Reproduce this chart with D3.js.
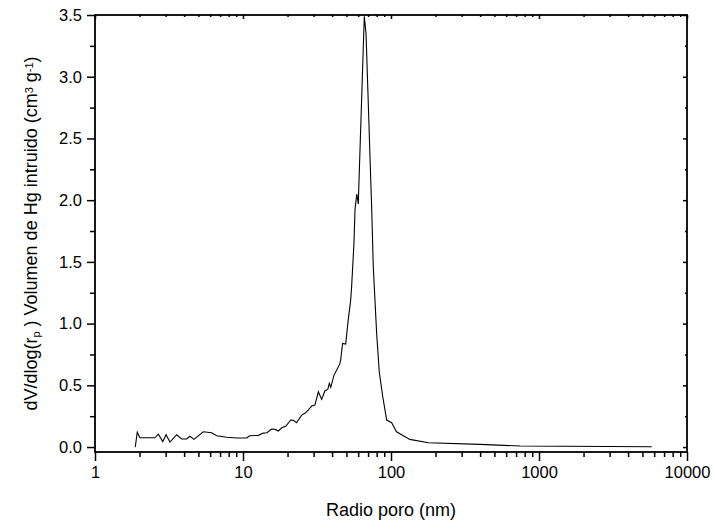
<!DOCTYPE html>
<html>
<head>
<meta charset="utf-8">
<script src="https://cdn.jsdelivr.net/npm/d3@7"></script>
<style>
    body { margin: 0; background: #fff; }
    svg text { font-family: "Liberation Sans", Arial, sans-serif; fill: #000; }
</style>
</head>
<body>
<div id="chart"></div>
<script>
// Pore radius (nm) and dV/dlog(rp)
const radio = [1.87, 1.93, 2.01, 2.54, 2.68, 2.87, 3.02, 3.21, 3.56, 3.85, 4.16, 4.38, 4.66,
    5.39, 6.14, 6.64, 7.76, 9.06, 10.6, 11.1, 12.7, 13.7, 14.5, 15.6, 16.5, 17.3, 18.3, 19.5,
    21.0, 21.9, 23.0, 24.9, 26.2, 27.6, 29.1, 30.6, 32.3, 34.0, 35.8, 37.4, 38.3, 39.2, 41.2,
    43.0, 45.2, 45.7, 47.1, 49.4, 51.4, 53.4, 54.2, 56.2, 57.1, 58.7, 60.1, 66.0, 67.8, 74.1,
    75.9, 80.0, 83.3, 87.9, 93.5, 101, 109, 134, 179, 399, 744, 5780];
const dvdlog = [0.00, 0.12, 0.075, 0.075, 0.105, 0.045, 0.10, 0.04, 0.10, 0.065, 0.065, 0.087, 0.062,
    0.124, 0.116, 0.092, 0.079, 0.073, 0.073, 0.092, 0.095, 0.113, 0.116, 0.146, 0.143, 0.13, 0.156, 0.17,
    0.219, 0.216, 0.197, 0.259, 0.273, 0.30, 0.332, 0.34, 0.448, 0.386, 0.456, 0.467, 0.516, 0.484, 0.583,
    0.624, 0.678, 0.705, 0.84, 0.835, 1.03, 1.19, 1.30, 1.65, 1.92, 2.05, 1.97, 3.49, 3.35, 1.92,
    1.46, 0.92, 0.61, 0.41, 0.219, 0.197, 0.124, 0.062, 0.035, 0.022, 0.008, 0.002];

const xMajor = [1, 10, 100, 1000, 10000];
const yMajor = [0, 0.5, 1.0, 1.5, 2.0, 2.5, 3.0, 3.5];
const yMinor = [0.25, 0.75, 1.25, 1.75, 2.25, 2.75, 3.25];

let width = 714;
let height = 522;
let margin = { top: 15, right: 27, bottom: 70, left: 95 };
let chartWidth = width - margin.left - margin.right;
let chartHeight = height - margin.top - margin.bottom;

const data = radio.map((r, i) => ({ r: r, v: dvdlog[i] }));

let xMinor = [];
xMajor.slice(0, -1).forEach(d => {
    for (let k = 2; k < 10; k++) xMinor.push(d * k);
});

const xScale = d3.scaleLog()
    .domain([1, 10000])
    .range([0, chartWidth]);

const yScale = d3.scaleLinear()
    .domain([-0.04, 3.5])
    .range([chartHeight, 0]);

const svg = d3.select('#chart')
    .append('svg')
    .attr('width', width)
    .attr('height', height);

const g = svg.append('g')
    .attr('transform', `translate(${margin.left},${margin.top})`);

// axes: outer ticks on bottom/left, inner on top/right
function styleAxis(sel) {
    sel.select('.domain').remove();
    sel.selectAll('.tick line').attr('stroke', '#000').attr('stroke-width', 1.5);
    sel.selectAll('.tick text').style('font-size', '16.5px');
}

g.append('g')
    .attr('transform', `translate(0,${chartHeight})`)
    .call(d3.axisBottom(xScale).tickValues(xMajor).tickSize(9).tickPadding(5)
        .tickFormat(d3.format('d')))
    .call(styleAxis);
g.append('g')
    .attr('transform', `translate(0,${chartHeight})`)
    .call(d3.axisBottom(xScale).tickValues(xMinor).tickSize(5).tickFormat(''))
    .call(styleAxis);

g.append('g')
    .call(d3.axisTop(xScale).tickValues(xMajor).tickSize(-4).tickFormat(''))
    .call(styleAxis);
g.append('g')
    .call(d3.axisTop(xScale).tickValues(xMinor).tickSize(-2).tickFormat(''))
    .call(styleAxis);

g.append('g')
    .call(d3.axisLeft(yScale).tickValues(yMajor).tickSize(8).tickPadding(5)
        .tickFormat(d3.format('.1f')))
    .call(styleAxis);
g.append('g')
    .call(d3.axisLeft(yScale).tickValues(yMinor).tickSize(5).tickFormat(''))
    .call(styleAxis);

g.append('g')
    .attr('transform', `translate(${chartWidth},0)`)
    .call(d3.axisRight(yScale).tickValues(yMajor).tickSize(-4).tickFormat(''))
    .call(styleAxis);
g.append('g')
    .attr('transform', `translate(${chartWidth},0)`)
    .call(d3.axisRight(yScale).tickValues(yMinor).tickSize(-2).tickFormat(''))
    .call(styleAxis);

// frame
g.append('rect')
    .attr('width', chartWidth)
    .attr('height', chartHeight)
    .attr('fill', 'none')
    .attr('stroke', '#000')
    .attr('stroke-width', 1.8);

// curve
const line = d3.line()
    .x(d => xScale(d.r))
    .y(d => yScale(d.v));

g.append('path')
    .datum(data)
    .attr('d', line)
    .attr('fill', 'none')
    .attr('stroke', '#000')
    .attr('stroke-width', 1.1);

// x label
svg.append('text')
    .attr('x', margin.left + chartWidth / 2)
    .attr('y', 516)
    .attr('text-anchor', 'middle')
    .style('font-size', '18px')
    .text('Radio poro (nm)');

// y label with sub/superscripts
const yLabel = svg.append('text')
    .attr('transform', `translate(37,${margin.top + chartHeight / 2}) rotate(-90)`)
    .attr('text-anchor', 'middle')
    .style('font-size', '18px');
yLabel.append('tspan').text('dV/dlog(r');
yLabel.append('tspan').attr('baseline-shift', '-25%').style('font-size', '11px').text('p');
yLabel.append('tspan').text(' ) Volumen de Hg intruido (cm');
yLabel.append('tspan').attr('baseline-shift', '40%').style('font-size', '11px').text('3');
yLabel.append('tspan').text(' g');
yLabel.append('tspan').attr('baseline-shift', '40%').style('font-size', '11px').text('-1');
yLabel.append('tspan').text(')');
</script>
</body>
</html>
